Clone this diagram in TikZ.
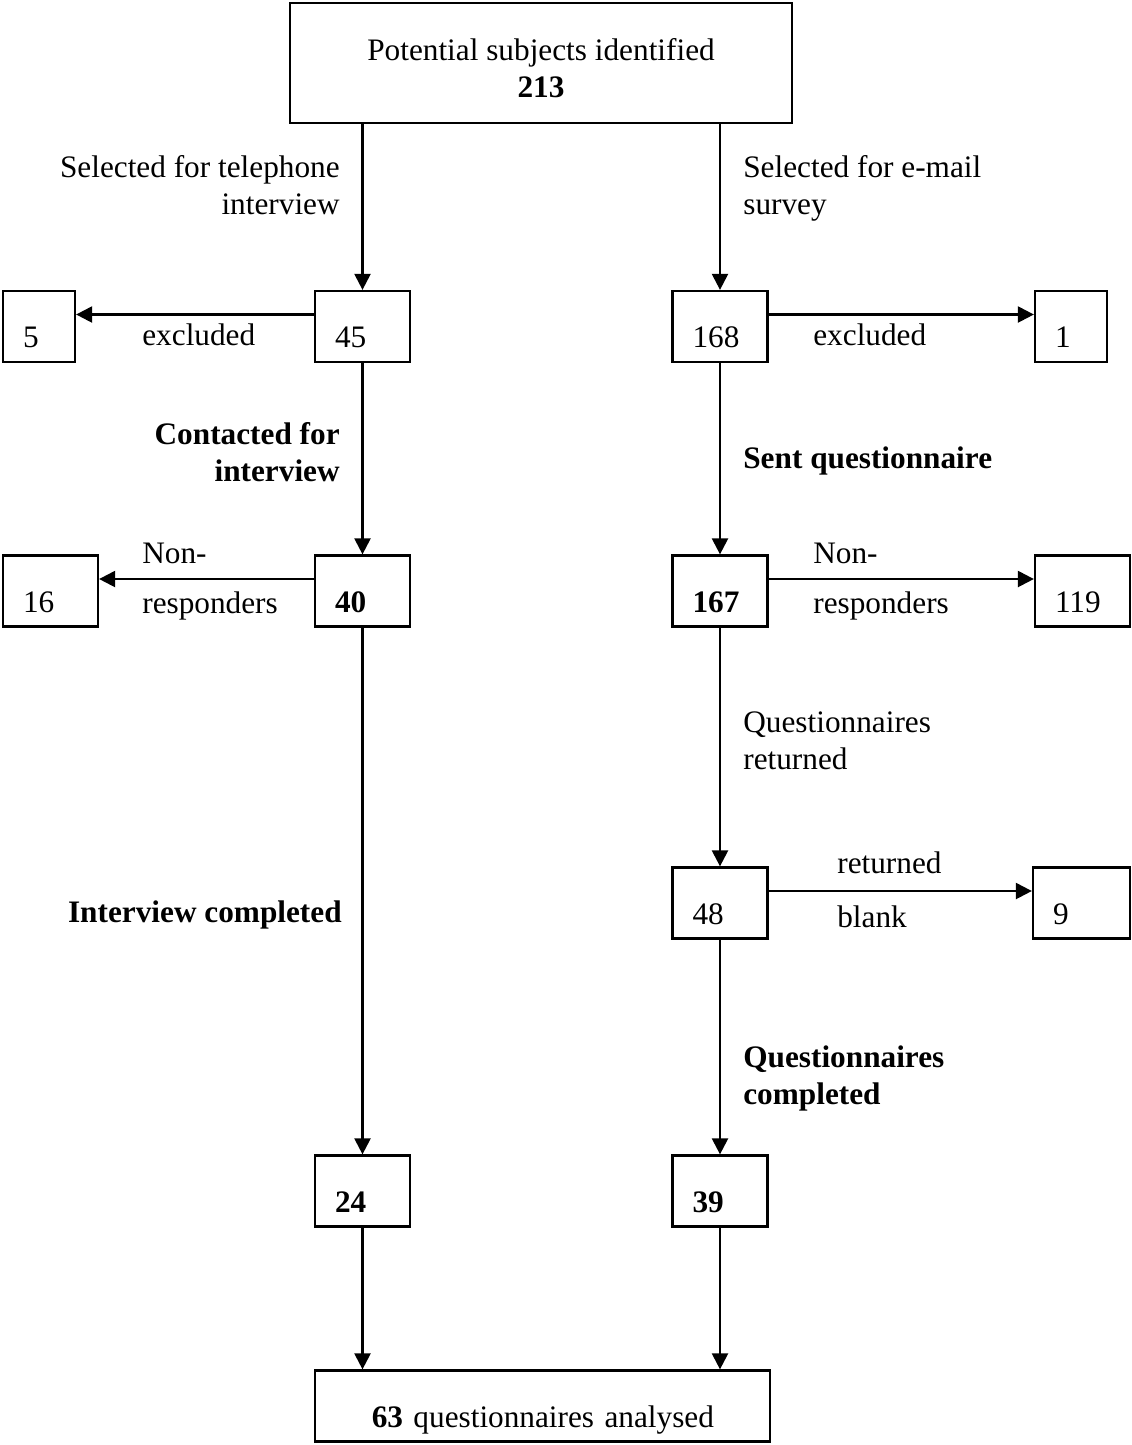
\documentclass[tikz,border=0pt]{standalone}
\usepackage{fontspec}
\setmainfont{Liberation Serif}
\usetikzlibrary{arrows.meta}

\tikzset{
    every node/.style={font=\fontsize{17.8}{20.8}\selectfont},
    numbox/.style={draw=black, line width=1.3pt, minimum height=1.42cm, inner xsep=0.4cm, inner ysep=0.1cm, text width=1.1cm, align=left, text height=0.84cm, text depth=0pt},
    narrowbox/.style={numbox, text width=0.64cm},
    topbox/.style={draw=black, line width=1.3pt, minimum width=10.04cm, minimum height=2.4cm, align=center, text height=1.36cm, text depth=0pt},
    endbox/.style={numbox, inner xsep=1.12cm, text width=6.86cm, align=right},
    flowarrow/.style={line width=1.3pt, -{Triangle[length=0.32cm,width=0.32cm]}},
    sidelabel/.style={inner sep=0pt},
    boldlabel/.style={sidelabel, font=\fontsize{17.8}{20.8}\selectfont\bfseries},
}

\begin{document}
\begin{tikzpicture}[x=0.02cm,y=-0.02cm]
    \useasboundingbox (0,0) rectangle (1132,1445);
    \node[topbox] (top) at (541,63) {Potential subjects identified\\\textbf{213}};
    \node[numbox] (n45) at (362.5,326.5) {45};
    \node[narrowbox] (n5) at (39,326.5) {5};
    \node[numbox] (n168) at (720,326.5) {168};
    \node[narrowbox] (n1) at (1071,326.5) {1};
    \node[numbox] (n40) at (362.5,591) {\textbf{40}};
    \node[numbox] (n16) at (50.5,591) {16};
    \node[numbox] (n167) at (720,591) {\textbf{167}};
    \node[numbox] (n119) at (1082.5,591) {119};
    \node[numbox] (n48) at (720,903) {48};
    \node[numbox, text width=1.14cm] (n9) at (1081.5,903) {9};
    \node[numbox] (n24) at (362.5,1191) {\textbf{24}};
    \node[numbox] (n39) at (720,1191) {\textbf{39}};
    \node[endbox] (bottom) at (542.5,1406) {\textbf{63} questionnaires analysed};

    \node[sidelabel, anchor=base east, align=right] (tellabel) at (340,214) {Selected for telephone\\interview};
    \node[sidelabel, anchor=base west, align=left] (maillabel) at (743,214) {Selected for e-mail\\survey};
    \node[sidelabel, anchor=base west] (exclleft) at (142,345) {excluded};
    \node[sidelabel, anchor=base west] (exclright) at (813,345) {excluded};
    \node[boldlabel, anchor=base east, align=right] (contlabel) at (340,481) {Contacted for\\interview};
    \node[boldlabel, anchor=base west] (sentlabel) at (743,468) {Sent questionnaire};
    \node[sidelabel, anchor=base west] (nonleft) at (142,563) {Non-};
    \node[sidelabel, anchor=base west] (respleft) at (142,613) {responders};
    \node[sidelabel, anchor=base west] (nonright) at (813,563) {Non-};
    \node[sidelabel, anchor=base west] (respright) at (813,613) {responders};
    \node[sidelabel, anchor=base west, align=left] (retlabel) at (743,769) {Questionnaires\\returned};
    \node[sidelabel, anchor=base west] (retblank) at (837,873) {returned};
    \node[sidelabel, anchor=base west] (blank) at (837,927) {blank};
    \node[boldlabel, anchor=base east] (intlabel) at (342,922) {Interview completed};
    \node[boldlabel, anchor=base west, align=left] (complabel) at (743,1104) {Questionnaires\\completed};

    \path [flowarrow] (top.south -| n45) edge (n45);
    \path [flowarrow] (top.south -| n168) edge (n168);
    \path [flowarrow] ([yshift=0.24cm]n45.west) edge ([yshift=0.24cm]n5.east);
    \path [flowarrow] ([yshift=0.24cm]n168.east) edge ([yshift=0.24cm]n1.west);
    \path [flowarrow] (n45) edge (n40);
    \path [flowarrow] (n168) edge (n167);
    \path [flowarrow] ([yshift=0.24cm]n40.west) edge ([yshift=0.24cm]n16.east);
    \path [flowarrow] ([yshift=0.24cm]n167.east) edge ([yshift=0.24cm]n119.west);
    \path [flowarrow] (n40) edge (n24);
    \path [flowarrow] (n167) edge (n48);
    \path [flowarrow] ([yshift=0.24cm]n48.east) edge ([yshift=0.24cm]n9.west);
    \path [flowarrow] (n48) edge (n39);
    \path [flowarrow] (n24) edge (n24 |- bottom.north);
    \path [flowarrow] (n39) edge (n39 |- bottom.north);
\end{tikzpicture}
\end{document}
